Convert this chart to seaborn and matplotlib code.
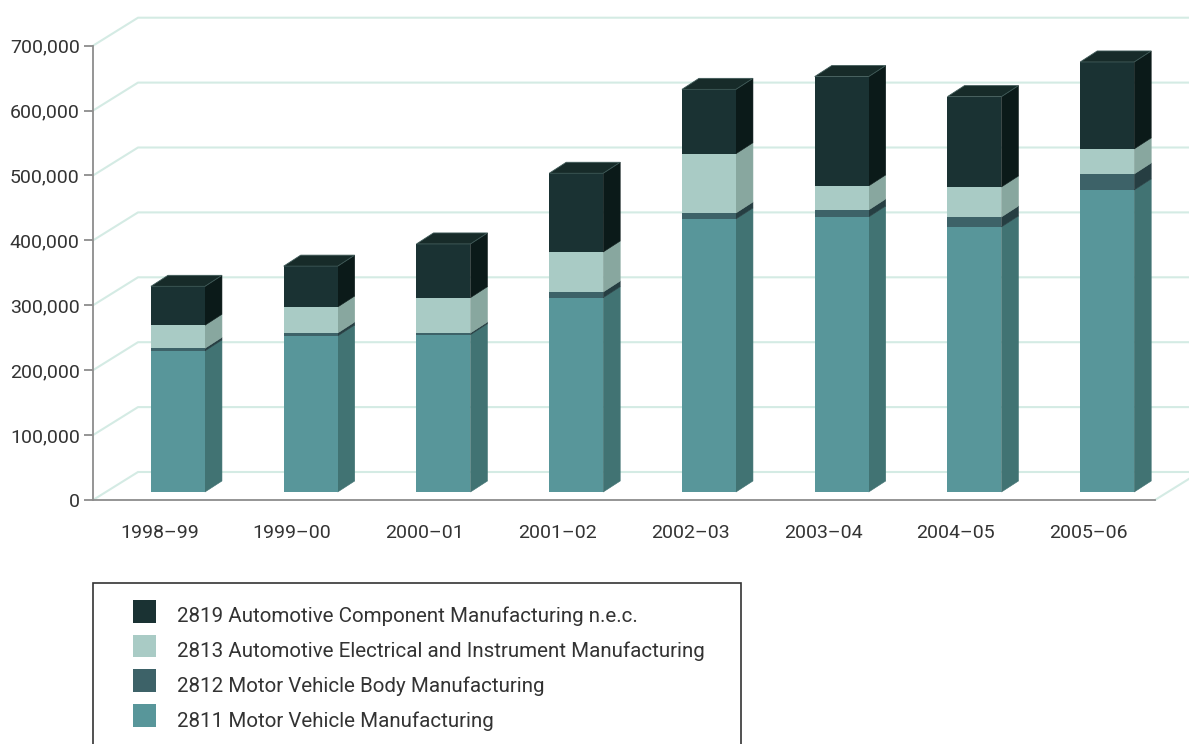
import numpy as np
import matplotlib
matplotlib.use("Agg")
import matplotlib.pyplot as plt
from matplotlib.patches import Polygon, Rectangle
import seaborn as sns

# ---- data -------------------------------------------------------------
periods = ["1998–99", "1999–00", "2000–01", "2001–02",
           "2002–03", "2003–04", "2004–05", "2005–06"]

motor_vehicle = [217400, 240400, 242400, 299400, 420700, 423800, 408400, 465400]  # 2811
vehicle_body = [4000, 4600, 2600, 8800, 9200, 10800, 15400, 24600]                  # 2812
electrical = [35500, 40000, 54400, 61600, 91300, 37000, 46200, 38600]              # 2813
component = [60000, 63000, 82800, 121300, 99200, 168500, 139200, 134000]           # 2819

series_labels = [
    "2811 Motor Vehicle Manufacturing",
    "2812 Motor Vehicle Body Manufacturing",
    "2813 Automotive Electrical and Instrument Manufacturing",
    "2819 Automotive Component Manufacturing n.e.c.",
]
series_values = [motor_vehicle, vehicle_body, electrical, component]

front_colors = ["#58969a", "#3d6268", "#a9cbc5", "#1a3233"]
side_colors = ["#417373", "#263e42", "#88a79f", "#0b1a19"]
top_color = "#172b29"

y_ticks = list(range(0, 700001, 100000))

# ---- style ------------------------------------------------------------
sns.set_style("white")
plt.rcParams["font.family"] = ["Roboto", "DejaVu Sans"]
TEXT = "#333333"
AXIS = "#8c8c8c"
GRID = "#d4ebe4"
FS_TICK = 14
FS_LEG = 14.8

W, H = 1189, 744
fig = plt.figure(figsize=(W / 100, H / 100), dpi=100)
ax_l, ax_r, ax_t, ax_b = 93, 1155, 45.7, 500
ax = fig.add_axes([ax_l / W, 1 - ax_b / H, (ax_r - ax_l) / W, (ax_b - ax_t) / H])
ax.set_xlim(-0.5, 7.5)
ax.set_ylim(0, 700000)

# pixel <-> data helpers for the oblique projection
px_per_x = (ax_r - ax_l) / 8.0
px_per_y = (ax_b - ax_t) / 700000.0
ux = lambda px: px / px_per_x
uy = lambda px: px / px_per_y

wall_dx, wall_dy = ux(45), uy(28)
x_edge = -0.5 + (W - ax_l) / px_per_x

# back wall grid with its oblique returns to the front axis
for v in y_ticks:
    ax.plot([-0.5, -0.5 + wall_dx, x_edge], [v, v + wall_dy, v + wall_dy],
            color=GRID, lw=1.5, zorder=1, clip_on=False, solid_capstyle="butt")
ax.plot([7.5, 7.5 + wall_dx], [0, wall_dy], color=GRID, lw=1.5, zorder=1,
        clip_on=False)

# ---- stacked bars (front faces via seaborn) ---------------------------
bar_width = ux(54)
bar_shift = 0.14
base = uy(8)
depth_dx, depth_dy = ux(17), uy(11)

bottoms = np.full(len(periods), base)
segments = []
for vals, fc, sc in zip(series_values, front_colors, side_colors):
    n0 = len(ax.patches)
    sns.barplot(x=periods, y=vals, bottom=bottoms, color=fc, saturation=1,
                width=bar_width, errorbar=None, linewidth=0, zorder=3, ax=ax)
    for p in ax.patches[n0:]:
        p.set_x(p.get_x() + bar_shift)
        segments.append((p, sc))
    bottoms = bottoms + np.asarray(vals)

# side faces of every segment, top face of each column
tops = {}
for p, sc in segments:
    x0, y0 = p.get_x(), p.get_y()
    x1, y1 = x0 + p.get_width(), y0 + p.get_height()
    ax.add_patch(Polygon([(x1, y0), (x1 + depth_dx, y0 + depth_dy),
                          (x1 + depth_dx, y1 + depth_dy), (x1, y1)],
                         closed=True, facecolor=sc, edgecolor=sc, lw=0.4,
                         zorder=2.9))
    key = round(x0, 6)
    if key not in tops or y1 > tops[key][2]:
        tops[key] = (x0, x1, y1)
for x0, x1, y1 in tops.values():
    ax.add_patch(Polygon([(x0, y1), (x1, y1), (x1 + depth_dx, y1 + depth_dy),
                          (x0 + depth_dx, y1 + depth_dy)],
                         closed=True, facecolor=top_color, edgecolor="#3f5a58",
                         lw=0.6, zorder=3, clip_on=False))

# ---- axes ---------------------------------------------------------------
for s in ("top", "right"):
    ax.spines[s].set_visible(False)
for s in ("left", "bottom"):
    ax.spines[s].set_color(AXIS)
    ax.spines[s].set_linewidth(1.3)
ax.set_xlabel("")
ax.set_ylabel("")

ax.set_xticks(np.arange(-0.5, 8, 1))
ax.set_xticklabels([""] * 9)
ax.set_xticks(np.arange(len(periods)), minor=True)
ax.set_xticklabels(periods, minor=True, fontsize=FS_TICK, color=TEXT)
ax.tick_params(axis="x", which="major", length=8, width=1.3, color=AXIS)
ax.tick_params(axis="x", which="minor", length=0, pad=17.5)

ax.set_yticks(y_ticks)
ax.set_yticklabels([f"{v:,}" for v in y_ticks], fontsize=FS_TICK, color=TEXT)
ax.tick_params(axis="y", length=6.5, width=1.3, color=AXIS, pad=3, left=True)

# ---- legend box --------------------------------------------------------
fx = lambda px: px / W
fy = lambda py: 1 - py / H
fig.patches.append(Rectangle((fx(93), fy(760)), fx(741) - fx(93), fy(582.5) - fy(760),
                             transform=fig.transFigure, facecolor="white",
                             edgecolor="#333333", lw=1.2))
row_tops = [600, 634.7, 669.4, 704.1]
for i, (lab, col) in enumerate(zip(series_labels[::-1], front_colors[::-1])):
    t = row_tops[i]
    fig.patches.append(Rectangle((fx(133), fy(t + 22.7)), fx(156) - fx(133), 22.7 / H,
                                 transform=fig.transFigure, facecolor=col,
                                 edgecolor="none"))
    fig.text(fx(177), fy(t + 22.5), lab, fontsize=FS_LEG, color=TEXT,
             va="baseline", ha="left")

fig.savefig("out.png", dpi=100)
